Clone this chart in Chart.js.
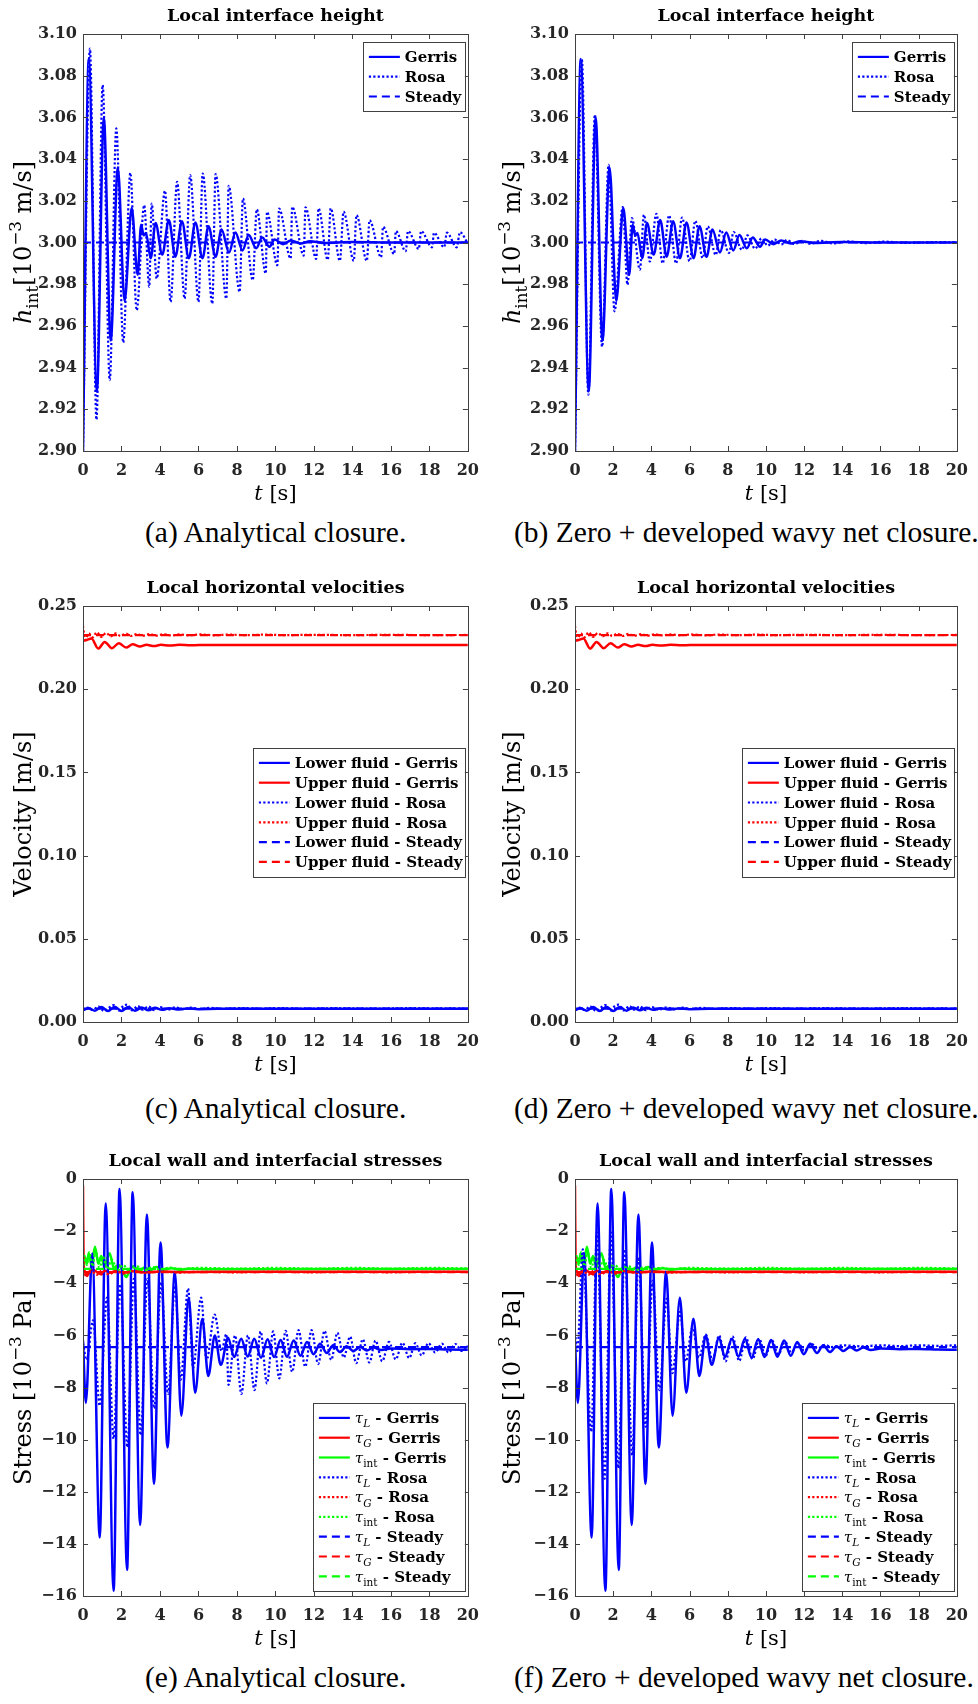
<!DOCTYPE html>
<html>
<head>
<meta charset="utf-8">
<style>
  body { margin: 0; background: #fff; overflow: hidden; }
  #page { position: relative; width: 978px; height: 1704px; background: #fff; }
  canvas { position: absolute; }
  .cap { position: absolute; font-family: 'Liberation Serif', 'Times New Roman', serif; font-size: 29.5px; line-height: 32px; color: #000; white-space: nowrap; }
</style>
<script src="https://cdn.jsdelivr.net/npm/chart.js@4.4.0/dist/chart.umd.min.js"></script>
</head>
<body>
<div id="page">
  <canvas id="cA" width="489" height="510" style="left:0;top:0"></canvas>
  <canvas id="cB" width="489" height="510" style="left:489px;top:0"></canvas>
  <canvas id="cC" width="489" height="515" style="left:0;top:560px"></canvas>
  <canvas id="cD" width="489" height="515" style="left:489px;top:560px"></canvas>
  <canvas id="cE" width="489" height="520" style="left:0;top:1135px"></canvas>
  <canvas id="cF" width="489" height="520" style="left:489px;top:1135px"></canvas>
  <div class="cap" style="left:145px;top:516px">(a) Analytical closure.</div>
  <div class="cap" style="left:514px;top:516px">(b) Zero + developed wavy net closure.</div>
  <div class="cap" style="left:145px;top:1092px">(c) Analytical closure.</div>
  <div class="cap" style="left:514px;top:1092px">(d) Zero + developed wavy net closure.</div>
  <div class="cap" style="left:145px;top:1661px">(e) Analytical closure.</div>
  <div class="cap" style="left:514px;top:1661px">(f) Zero + developed wavy net closure.</div>
</div>
<script>
// Couleurs et styles
const BLUE = '#0000ff', RED = '#ff0000', GREEN = '#00ff00';
const SERIF = "'DejaVu Serif', 'Liberation Serif', serif";
const FRAME = '#404040';
const TICKTXT = '#262626';
const DASHES = { solid: [], dotted: [2.2, 2.2], dashed: [8, 5] };

// ---- Hauteur d'interface [1e-3 m] : [t, valeur]
const hGerris = [[0,2.900],[0.30,3.088],[0.72,2.9285],[1.08,3.060],[1.44,2.953],[1.81,3.036],[2.16,2.972],[2.53,3.0165],[2.84,2.9845],[3.02,3.0085],[3.15,3.0035],[3.27,3.0045],[3.52,2.9925],[3.77,3.0093],[4.12,2.9942],[4.46,3.0108],[4.80,2.9932],[5.14,3.0102],[5.50,2.9925],[5.84,3.0096],[6.21,2.9925],[6.52,3.0078],[6.89,2.9932],[7.20,3.0062],[7.59,2.9952],[7.92,3.0048],[8.29,2.9962],[8.61,3.0036],[9.00,2.9972],[9.31,3.0024],[9.69,2.998],[9.96,3.0014],[10.4,2.9992],[10.8,3.0010],[11.3,2.9995],[11.8,3.0006],[12.5,2.9998],[14.0,3.0002],[16.0,3.0000],[20.0,3.0000]];
const hRosaA = [[0,2.900],[0.36,3.093],[0.70,2.915],[1.02,3.0755],[1.39,2.934],[1.73,3.0547],[2.09,2.952],[2.46,3.0334],[2.79,2.9675],[3.18,3.0179],[3.44,2.9787],[3.57,3.0187],[3.83,2.9827],[4.26,3.0248],[4.55,2.9715],[4.89,3.0291],[5.28,2.9731],[5.57,3.0323],[6.00,2.9715],[6.22,3.0331],[6.72,2.9707],[6.89,3.0328],[7.45,2.9731],[7.57,3.0272],[8.14,2.9763],[8.31,3.0211],[8.82,2.9819],[9.03,3.0159],[9.50,2.9851],[9.56,3.0147],[10.10,2.9891],[10.19,3.0163],[10.79,2.9923],[10.87,3.0171],[11.47,2.9937],[11.56,3.0169],[12.12,2.9921],[12.24,3.0164],[12.72,2.9917],[12.87,3.0164],[13.35,2.9912],[13.54,3.0148],[14.07,2.9912],[14.21,3.0131],[14.75,2.9912],[14.89,3.0107],[15.49,2.9929],[15.59,3.0075],[16.17,2.9945],[16.26,3.0055],[16.77,2.9958],[16.89,3.0055],[17.45,2.9969],[17.57,3.0055],[18.14,2.9977],[18.24,3.0047],[18.77,2.9977],[18.91,3.0047],[19.42,2.9977],[19.59,3.0050],[20.00,2.9994]];
const hRosaB = [[0,2.900],[0.36,3.0877],[0.70,2.927],[1.04,3.0613],[1.42,2.950],[1.76,3.0373],[2.07,2.967],[2.50,3.017],[2.75,2.9797],[2.98,3.0117],[3.40,2.987],[3.61,3.0133],[3.92,2.9909],[4.26,3.0138],[4.59,2.990],[4.93,3.013],[5.29,2.990],[5.61,3.012],[6.00,2.991],[6.30,3.0104],[6.69,2.9925],[6.95,3.0077],[7.37,2.994],[7.63,3.006],[8.06,2.995],[8.31,3.005],[8.74,2.9965],[9.03,3.0034],[9.43,2.997],[9.77,3.002],[10.1,2.9985],[10.45,3.0015],[10.8,2.999],[11.1,3.0012],[11.5,2.9993],[11.9,3.0008],[12.3,2.9994],[12.9,3.0008],[13.5,2.9996],[14.3,3.0005],[15.2,2.9997],[16.2,3.0004],[17.5,2.9998],[19.0,3.0002],[20.0,3.0000]];
const hSteady = [[0,3.000],[20,3.000]];

// ---- Vitesses horizontales [m/s]
const uLowGerris = [[0,0.0072],[0.3,0.0082],[0.62,0.0068],[0.95,0.0090],[1.3,0.0066],[1.65,0.0092],[2.0,0.0066],[2.35,0.0090],[2.7,0.0068],[3.05,0.0087],[3.4,0.0071],[3.75,0.0085],[4.1,0.0073],[4.5,0.0083],[4.9,0.0075],[5.4,0.0081],[6.0,0.0077],[7.0,0.0079],[20,0.0079]];
const uUpGerris = [[0,0.2290],[0.2,0.2296],[0.44,0.2304],[0.79,0.2244],[1.13,0.2284],[1.5,0.2246],[1.86,0.2276],[2.24,0.2250],[2.58,0.2270],[2.96,0.2256],[3.3,0.2267],[3.69,0.2259],[4.05,0.2267],[4.5,0.2262],[5.0,0.2267],[5.6,0.2264],[6.5,0.2266],[20,0.2266]];
const uLowRosa = [[0,0.0070],[0.25,0.0086],[0.5,0.0072],[0.8,0.0093],[1.1,0.0066],[1.4,0.0090],[1.6,0.0102],[1.85,0.0068],[2.1,0.0098],[2.3,0.0104],[2.55,0.0070],[2.85,0.0096],[3.1,0.0074],[3.4,0.0094],[3.7,0.0071],[4.0,0.0090],[4.4,0.0074],[4.8,0.0088],[5.2,0.0076],[5.6,0.0086],[6.1,0.0078],[6.6,0.0085],[7.2,0.0079],[8.2,0.0084],[9.2,0.0080],[10.2,0.0084],[11.5,0.0080],[13,0.0083],[15,0.0080],[17,0.0083],[20,0.0081]];
const uUpRosa = [[0,0.2380],[0.12,0.2296],[0.3,0.2336],[0.5,0.2312],[0.72,0.2342],[0.95,0.2314],[1.2,0.2338],[1.45,0.2318],[1.7,0.2336],[1.95,0.2320],[2.22,0.2334],[2.5,0.2320],[2.8,0.2332],[3.1,0.2321],[3.45,0.2331],[3.8,0.2322],[4.2,0.2330],[4.6,0.2323],[5.0,0.2329],[5.5,0.2324],[6.1,0.2329],[6.8,0.2324],[7.6,0.2328],[8.5,0.2325],[9.5,0.2328],[10.5,0.2325],[12,0.2327],[14,0.2325],[16,0.2327],[18,0.2325],[20,0.2326]];
const uLowSteady = [[0,0.0080],[20,0.0080]];
const uUpSteady = [[0,0.2325],[20,0.2325]];

// ---- Contraintes [1e-3 Pa]
const tauLGerris = [[0,-6.2],[0.15,-8.59],[0.48,-2.86],[0.87,-13.76],[1.18,-0.94],[1.59,-15.8],[1.90,-0.38],[2.29,-15.0],[2.58,-0.51],[2.97,-13.28],[3.32,-1.36],[3.69,-11.7],[4.03,-2.44],[4.39,-10.3],[4.77,-3.56],[5.11,-9.08],[5.49,-4.56],[5.83,-8.2],[6.20,-5.36],[6.51,-7.56],[6.85,-6.0],[7.16,-7.13],[7.54,-6.09],[7.85,-6.83],[8.22,-6.13],[8.56,-6.81],[8.90,-6.13],[9.25,-6.86],[9.59,-6.15],[9.93,-6.83],[10.27,-6.18],[10.60,-6.82],[10.95,-6.2],[11.30,-6.78],[11.64,-6.25],[11.98,-6.72],[12.32,-6.32],[12.67,-6.68],[13.00,-6.38],[13.35,-6.64],[13.70,-6.42],[14.05,-6.6],[14.40,-6.45],[14.75,-6.58],[15.10,-6.47],[15.50,-6.56],[16.0,-6.5],[17.0,-6.53],[18.0,-6.52],[19.0,-6.54],[20.0,-6.55]];
const tauGGerris = [[0,-0.25],[0.03,-3.2],[0.10,-3.55],[0.20,-3.72],[0.35,-3.55],[0.55,-3.50],[0.75,-3.58],[0.96,-3.66],[1.15,-3.52],[1.4,-3.6],[1.7,-3.53],[2.1,-3.6],[2.6,-3.54],[3.2,-3.58],[4,-3.55],[5,-3.57],[7,-3.56],[20,-3.56]];
const tauIntGerris = [[0,-3.3],[0.1,-3.0],[0.2,-3.25],[0.3,-2.85],[0.45,-3.35],[0.62,-2.6],[0.8,-3.25],[0.95,-2.95],[1.1,-3.35],[1.38,-2.85],[1.6,-3.4],[1.85,-3.3],[2.05,-3.5],[2.25,-3.76],[2.45,-3.45],[2.65,-3.35],[2.9,-3.55],[3.2,-3.4],[3.5,-3.5],[3.8,-3.38],[4.2,-3.48],[4.6,-3.42],[5.0,-3.48],[5.5,-3.44],[6.5,-3.46],[20,-3.45]];
const tauLRosaE = [[0,-6.3],[0.19,-6.95],[0.52,-5.42],[0.87,-8.7],[1.25,-4.55],[1.59,-9.97],[1.93,-4.04],[2.31,-10.3],[2.64,-3.83],[3.00,-9.83],[3.35,-3.83],[3.70,-8.8],[4.06,-3.97],[4.42,-8.25],[4.78,-4.1],[5.08,-7.7],[5.46,-4.2],[5.72,-7.25],[6.14,-4.55],[6.42,-6.95],[6.84,-5.2],[7.20,-6.6],[7.45,-5.95],[7.56,-7.9],[7.90,-6.0],[8.23,-8.25],[8.57,-6.0],[8.91,-8.1],[9.23,-5.85],[9.56,-7.84],[9.88,-5.85],[10.20,-7.65],[10.53,-5.83],[10.87,-7.4],[11.20,-5.8],[11.55,-7.2],[11.88,-5.8],[12.22,-7.1],[12.55,-5.83],[12.90,-6.94],[13.22,-5.9],[13.55,-6.85],[13.88,-6.05],[14.20,-7.07],[14.54,-6.15],[14.88,-7.04],[15.20,-6.2],[15.55,-6.99],[15.90,-6.25],[16.25,-6.92],[16.60,-6.28],[16.95,-6.87],[17.27,-6.3],[17.60,-6.77],[17.95,-6.3],[18.30,-6.66],[18.65,-6.32],[19.00,-6.66],[19.35,-6.33],[19.70,-6.6],[20.00,-6.4]];
const tauLRosaF = [[0,-5.9],[0.12,-6.6],[0.41,-2.7],[0.85,-9.7],[1.15,-2.05],[1.55,-11.5],[1.88,-2.05],[2.27,-11.1],[2.60,-2.7],[3.00,-10.6],[3.33,-3.0],[3.70,-9.5],[4.07,-3.9],[4.42,-8.1],[4.80,-4.6],[5.10,-7.45],[5.50,-5.1],[5.80,-7.0],[6.15,-5.7],[6.50,-6.85],[6.85,-5.97],[7.20,-6.94],[7.55,-6.0],[7.88,-7.0],[8.25,-6.04],[8.60,-6.98],[8.95,-6.08],[9.30,-6.91],[9.65,-6.13],[9.97,-6.8],[10.30,-6.18],[10.65,-6.73],[11.00,-6.25],[11.33,-6.66],[11.70,-6.3],[12.00,-6.59],[12.40,-6.33],[12.70,-6.5],[13.10,-6.36],[13.40,-6.45],[14,-6.38],[15,-6.42],[16,-6.38],[17,-6.41],[18,-6.38],[19,-6.4],[20,-6.38]];
const tauGRosa = [[0,-3.3],[0.15,-3.72],[0.4,-3.5],[0.7,-3.68],[1.0,-3.5],[1.35,-3.66],[1.7,-3.52],[2.1,-3.63],[2.6,-3.53],[3.2,-3.6],[4,-3.55],[5,-3.59],[6,-3.56],[8,-3.58],[10,-3.56],[12,-3.58],[14,-3.56],[16,-3.58],[18,-3.56],[20,-3.57]];
const tauIntRosa = [[0,-3.5],[0.08,-2.95],[0.2,-3.3],[0.32,-2.8],[0.5,-3.35],[0.65,-2.75],[0.85,-3.4],[1.05,-3.0],[1.25,-3.45],[1.5,-3.1],[1.8,-3.5],[2.1,-3.3],[2.4,-3.55],[2.8,-3.35],[3.2,-3.5],[3.6,-3.38],[4.0,-3.48],[4.5,-3.4],[5,-3.46],[6,-3.41],[8,-3.44],[10,-3.41],[12,-3.44],[14,-3.41],[16,-3.44],[18,-3.41],[20,-3.43]];
const tauLSteady = [[0,-6.45],[20,-6.45]];
const tauGSteady = [[0,-3.57],[20,-3.57]];
const tauIntSteady = [[0,-3.45],[20,-3.45]];

// Géométrie des lignes / colonnes (coordonnées locales du canvas)
const rows = [
  { h: 510, plotTop: 34, plotBottom: 451 },
  { h: 515, plotTop: 46, plotBottom: 462 },
  { h: 520, plotTop: 44, plotBottom: 461 }
];
const cols = [
  { w: 489, plotLeft: 83, plotRight: 473 },
  { w: 489, plotLeft: 86, plotRight: 476 }
];

// Petit parseur de texte riche : $..$ italique, _{..} indice, ^{..} exposant
function parseRich(s) {
  const segs = [];
  let math = false, buf = '', i = 0;
  const push = (text, shift, m) => { if (text) segs.push({ text, shift, math: m }); };
  while (i < s.length) {
    const c = s[i];
    if (c === '$') { push(buf, 0, math); buf = ''; math = !math; i++; continue; }
    if ((c === '_' || c === '^') && s[i + 1] === '{') {
      push(buf, 0, math); buf = '';
      const end = s.indexOf('}', i);
      const shift = c === '_' ? 1 : -1;
      let m = math, b = '';
      for (const ch of s.slice(i + 2, end)) {
        if (ch === '$') { push(b, shift, m); b = ''; m = !m; } else b += ch;
      }
      push(b, shift, m);
      i = end + 1; continue;
    }
    buf += c; i++;
  }
  push(buf, 0, math);
  return segs;
}

function fontOf(seg, size, bold) {
  const sz = seg.shift ? Math.round(size * 7) / 10 : size;
  return (seg.math ? 'italic ' : '') + (bold && !seg.math && !seg.shift ? 'bold ' : '') + sz + 'px ' + SERIF;
}

function drawRich(ctx, str, x, cy, size, bold, align, color) {
  const segs = parseRich(str);
  let w = 0;
  segs.forEach(s => { ctx.font = fontOf(s, size, bold); s.w = ctx.measureText(s.text).width; w += s.w; });
  let px = align === 'center' ? x - w / 2 : x;
  const base = cy + size * 0.35;
  ctx.fillStyle = color;
  ctx.textAlign = 'left';
  ctx.textBaseline = 'alphabetic';
  segs.forEach(s => {
    ctx.font = fontOf(s, size, bold);
    const dy = s.shift === 1 ? size * 0.28 : (s.shift === -1 ? -size * 0.42 : 0);
    ctx.fillText(s.text, px, base + dy);
    px += s.w;
  });
}

// Cadre, graduations intérieures, titres et légende
function framePlugin(p) {
  return {
    id: 'frame',
    afterDraw(chart) {
      const { ctx, chartArea: a, scales: { x, y } } = chart;
      ctx.save();
      ctx.strokeStyle = FRAME;
      ctx.lineWidth = 1;
      ctx.setLineDash([]);
      ctx.strokeRect(Math.round(a.left) + 0.5, Math.round(a.top) + 0.5, Math.round(a.right - a.left), Math.round(a.bottom - a.top));
      ctx.beginPath();
      x.ticks.forEach(t => {
        const px = Math.round(x.getPixelForValue(t.value)) + 0.5;
        ctx.moveTo(px, a.bottom); ctx.lineTo(px, a.bottom - 5);
        ctx.moveTo(px, a.top); ctx.lineTo(px, a.top + 5);
      });
      y.ticks.forEach(t => {
        const py = Math.round(y.getPixelForValue(t.value)) + 0.5;
        ctx.moveTo(a.left, py); ctx.lineTo(a.left + 5, py);
        ctx.moveTo(a.right, py); ctx.lineTo(a.right - 5, py);
      });
      ctx.stroke();

      const cx = (a.left + a.right) / 2;
      drawRich(ctx, p.title, cx, a.top - 19, 17.5, true, 'center', '#000');
      drawRich(ctx, '$t$ [s]', cx, a.bottom + 42, 21, false, 'center', '#000');
      ctx.save();
      ctx.translate(23, (a.top + a.bottom) / 2);
      ctx.rotate(-Math.PI / 2);
      drawRich(ctx, p.yTitle, 0, 0, 24, false, 'center', '#000');
      ctx.restore();

      // légende
      const rowH = 19.8;
      const lg = p.legend;
      const h = p.series.length * rowH + 10;
      const right = a.right - 3, left = right - lg.width, top = a.top + lg.top;
      ctx.fillStyle = '#fff';
      ctx.fillRect(left, top, lg.width, h);
      ctx.strokeStyle = FRAME;
      ctx.lineWidth = 1;
      ctx.strokeRect(Math.round(left) + 0.5, Math.round(top) + 0.5, Math.round(lg.width), Math.round(h));
      p.series.forEach((s, i) => {
        const cy = top + 5 + rowH * (i + 0.5);
        ctx.setLineDash(DASHES[s.style]);
        ctx.strokeStyle = s.color;
        ctx.lineWidth = 2.2;
        ctx.beginPath();
        ctx.moveTo(left + 6, cy); ctx.lineTo(left + 37, cy);
        ctx.stroke();
        ctx.setLineDash([]);
        drawRich(ctx, s.label, left + 42, cy, 15, true, 'left', '#000');
      });
      ctx.restore();
    }
  };
}

const fmt2 = v => v.toFixed(2);
const fmtStress = v => (v < 0 ? '\u2212' + Math.abs(v) : String(v));

const hSeries = rosa => [
  { label: 'Gerris', data: hGerris, color: BLUE, style: 'solid' },
  { label: 'Rosa', data: rosa, color: BLUE, style: 'dotted' },
  { label: 'Steady', data: hSteady, color: BLUE, style: 'dashed' }
];
const uSeries = [
  { label: 'Lower fluid - Gerris', data: uLowGerris, color: BLUE, style: 'solid' },
  { label: 'Upper fluid - Gerris', data: uUpGerris, color: RED, style: 'solid' },
  { label: 'Lower fluid - Rosa', data: uLowRosa, color: BLUE, style: 'dotted' },
  { label: 'Upper fluid - Rosa', data: uUpRosa, color: RED, style: 'dotted' },
  { label: 'Lower fluid - Steady', data: uLowSteady, color: BLUE, style: 'dashed' },
  { label: 'Upper fluid - Steady', data: uUpSteady, color: RED, style: 'dashed' }
];
const tauSeries = rosaL => [
  { label: '$τ$_{$L$} - Gerris', data: tauLGerris, color: BLUE, style: 'solid' },
  { label: '$τ$_{$G$} - Gerris', data: tauGGerris, color: RED, style: 'solid' },
  { label: '$τ$_{int} - Gerris', data: tauIntGerris, color: GREEN, style: 'solid' },
  { label: '$τ$_{$L$} - Rosa', data: rosaL, color: BLUE, style: 'dotted' },
  { label: '$τ$_{$G$} - Rosa', data: tauGRosa, color: RED, style: 'dotted' },
  { label: '$τ$_{int} - Rosa', data: tauIntRosa, color: GREEN, style: 'dotted' },
  { label: '$τ$_{$L$} - Steady', data: tauLSteady, color: BLUE, style: 'dashed' },
  { label: '$τ$_{$G$} - Steady', data: tauGSteady, color: RED, style: 'dashed' },
  { label: '$τ$_{int} - Steady', data: tauIntSteady, color: GREEN, style: 'dashed' }
];

const hPanel = { title: 'Local interface height', yMin: 2.9, yMax: 3.1, yStep: 0.02, fmt: fmt2, yTitle: '$h$_{int}[10^{\u22123} m/s]', legend: { top: 8, width: 102 } };
const uPanel = { title: 'Local horizontal velocities', yMin: 0, yMax: 0.25, yStep: 0.05, fmt: fmt2, yTitle: 'Velocity [m/s]', legend: { top: 142, width: 212 } };
const tPanel = { title: 'Local wall and interfacial stresses', yMin: -16, yMax: 0, yStep: 2, fmt: fmtStress, yTitle: 'Stress [10^{\u22123} Pa]', legend: { top: 224, width: 152 } };

const panels = [
  Object.assign({ canvas: 'cA', row: 0, col: 0, series: hSeries(hRosaA) }, hPanel),
  Object.assign({ canvas: 'cB', row: 0, col: 1, series: hSeries(hRosaB) }, hPanel),
  Object.assign({ canvas: 'cC', row: 1, col: 0, series: uSeries }, uPanel),
  Object.assign({ canvas: 'cD', row: 1, col: 1, series: uSeries }, uPanel),
  Object.assign({ canvas: 'cE', row: 2, col: 0, series: tauSeries(tauLRosaE) }, tPanel),
  Object.assign({ canvas: 'cF', row: 2, col: 1, series: tauSeries(tauLRosaF) }, tPanel)
];

const tickFont = { family: SERIF, weight: 'bold', size: 16 };
const drawOrder = { dashed: 0, dotted: 1, solid: 2 };

panels.forEach(p => {
  const r = rows[p.row], c = cols[p.col];
  new Chart(document.getElementById(p.canvas), {
    type: 'line',
    data: {
      datasets: p.series.map(s => ({
        label: s.label,
        data: s.data.map(([x, y]) => ({ x, y })),
        borderColor: s.color,
        borderWidth: s.style === 'solid' ? 2.5 : 2.2,
        borderDash: DASHES[s.style],
        pointRadius: 0,
        fill: false,
        cubicInterpolationMode: 'monotone',
        order: drawOrder[s.style]
      }))
    },
    options: {
      responsive: false,
      animation: false,
      devicePixelRatio: 1,
      events: [],
      layout: { padding: { left: 0, top: r.plotTop, right: c.w - c.plotRight, bottom: 0 } },
      plugins: { legend: { display: false }, title: { display: false }, tooltip: { enabled: false } },
      scales: {
        x: {
          type: 'linear', min: 0, max: 20,
          grid: { display: false, drawTicks: false },
          border: { display: false },
          ticks: { stepSize: 2, autoSkip: false, maxRotation: 0, padding: 10, color: TICKTXT, font: tickFont },
          afterFit(s) { s.height = r.h - r.plotBottom; }
        },
        y: {
          type: 'linear', min: p.yMin, max: p.yMax,
          grid: { display: false, drawTicks: false },
          border: { display: false },
          ticks: { stepSize: p.yStep, autoSkip: false, padding: 6, color: TICKTXT, font: tickFont, callback: p.fmt },
          afterFit(s) { s.width = c.plotLeft; }
        }
      }
    },
    plugins: [framePlugin(p)]
  });
});
</script>
</body>
</html>
